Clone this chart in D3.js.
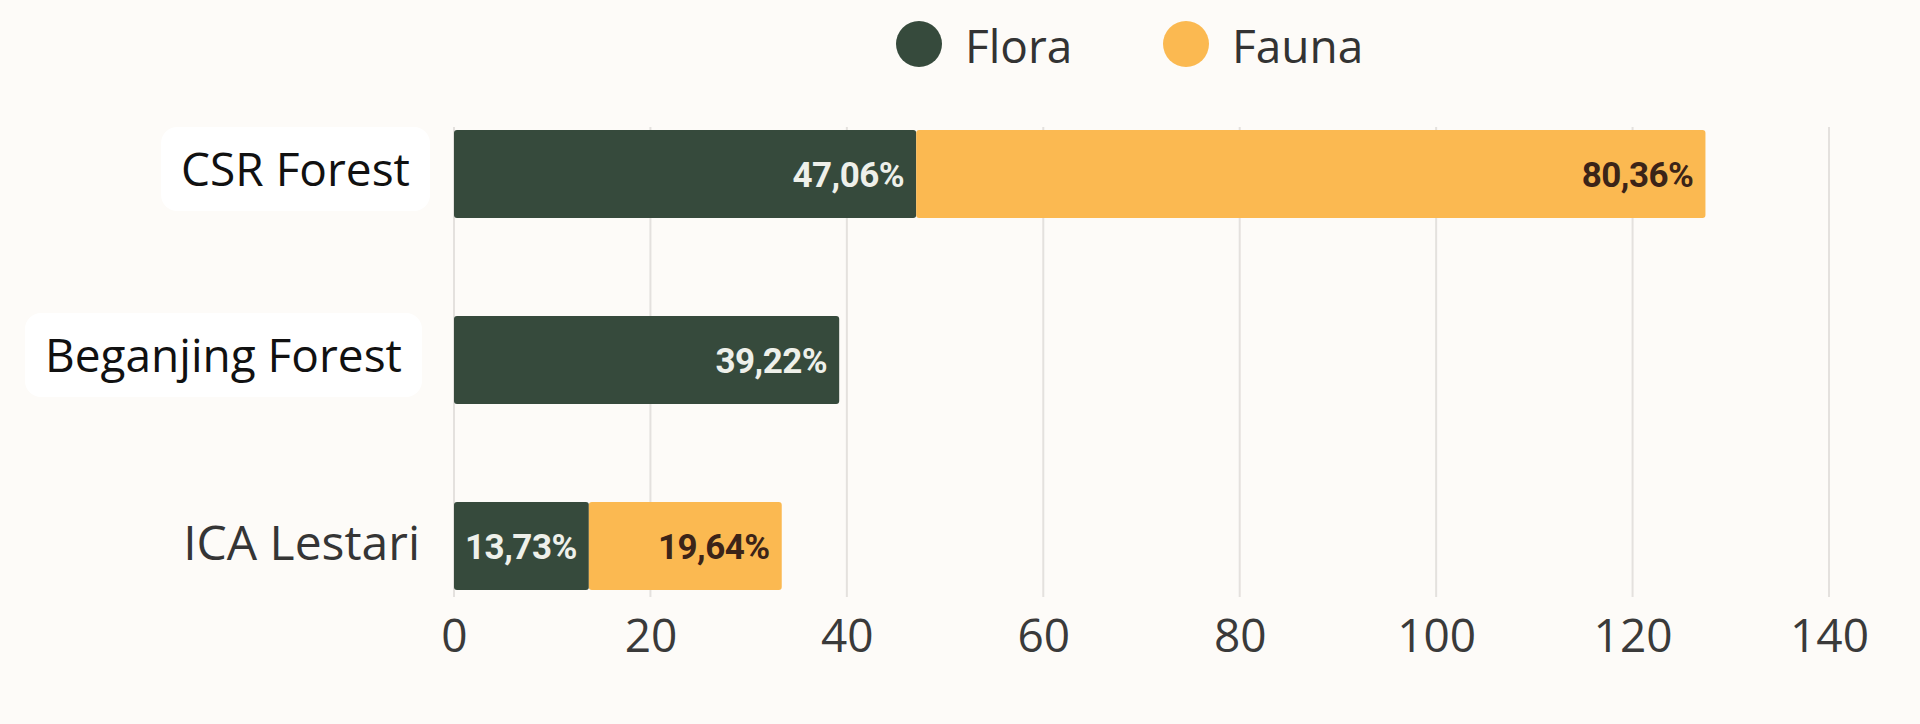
<!DOCTYPE html>
<html>
<head>
<meta charset="utf-8">
<script src="https://cdn.jsdelivr.net/npm/d3@7"></script>
<style>
  html, body { margin: 0; padding: 0; background: #fdfbf8; }
  svg { display: block; }
</style>
</head>
<body>
<svg id="chart" width="1920" height="724"></svg>
<script>
// ---- data ----
const categories = ["CSR Forest", "Beganjing Forest", "ICA Lestari"];
const seriesNames = ["Flora", "Fauna"];
const flora = [47.06, 39.22, 13.73];
const fauna = [80.36, 0, 19.64];
const tickValues = [0, 20, 40, 60, 80, 100, 120, 140];

// ---- setup ----
const svg = d3.select("#chart");
const colors = { Flora: "#364a3c", Fauna: "#fbb951" };
const labelColors = { Flora: "#eef0ea", Fauna: "#3b2418" };

const x = d3.scaleLinear().domain([0, 140]).range([454, 1829]);
const y = d3.scaleBand().domain(categories).range([130, 590]).paddingInner(0.527).paddingOuter(0);

const rows = categories.map((c, i) => ({ category: c, Flora: flora[i], Fauna: fauna[i] }));
const stacked = d3.stack().keys(seriesNames)(rows);

// gridlines
const grid = svg.append("g");
grid.selectAll("line").data(tickValues).join("line")
  .attr("x1", d => x(d)).attr("x2", d => x(d))
  .attr("y1", 127).attr("y2", 597)
  .attr("stroke", "#e4e1de").attr("stroke-width", 2);

// x axis labels (via d3 axis)
const xAxis = svg.append("g").attr("transform", "translate(0,652)")
  .call(d3.axisBottom(x).tickValues(tickValues).tickSize(0).tickPadding(0).tickFormat(d3.format("d")));
xAxis.select(".domain").remove();
xAxis.selectAll("text")
  .attr("dy", 0)
  .attr("y", 0)
  .style("font-family", "'Open Sans', sans-serif")
  .style("font-size", "46px")
  .style("fill", "#3a3a3a");

// bars
const barG = svg.append("g");
stacked.forEach(layer => {
  const key = layer.key;
  const g = barG.append("g");
  g.selectAll("rect").data(layer.filter(d => d[1] - d[0] > 0)).join("rect")
    .attr("x", d => x(d[0]))
    .attr("y", d => y(d.data.category))
    .attr("width", d => x(d[1]) - x(d[0]))
    .attr("height", y.bandwidth())
    .attr("rx", 3)
    .attr("fill", colors[key]);
  g.selectAll("text").data(layer.filter(d => d[1] - d[0] > 0)).join("text")
    .attr("x", d => x(d[1]) - 12)
    .attr("y", d => y(d.data.category) + y.bandwidth() / 2)
    .attr("dy", "0.36em")
    .attr("text-anchor", "end")
    .style("font-family", "Roboto, sans-serif")
    .style("font-weight", "700")
    .style("font-size", "35px")
    .style("letter-spacing", "-0.5px")
    .style("fill", labelColors[key])
    .text(d => (d[1] - d[0]).toFixed(2).replace(".", ",") + "%");
});

// category labels
const labelRight = { "CSR Forest": 410, "Beganjing Forest": 402, "ICA Lestari": 420 };
const labG = svg.append("g");
categories.forEach((c, i) => {
  const g = labG.append("g");
  const isPlain = c === "ICA Lestari";
  const t = g.append("text")
    .attr("x", labelRight[c])
    .attr("y", y(c) + y.bandwidth() / 2 + (isPlain ? 14 : 12))
    .attr("text-anchor", "end")
    .style("font-family", "'Open Sans', sans-serif")
    .style("font-size", isPlain ? "48px" : "46px")
    .style("fill", isPlain ? "#353535" : "#111111")
    .text(c);
  if (!isPlain) {
    const bb = t.node().getBBox();
    g.insert("rect", "text")
      .attr("x", bb.x - 20).attr("y", bb.y - 10)
      .attr("width", bb.width + 40).attr("height", bb.height + 22)
      .attr("rx", 16).attr("fill", "#ffffff");
  }
});

// legend
const legendX = [919, 1186];
const legend = svg.append("g");
seriesNames.forEach((s, i) => {
  legend.append("circle").attr("cx", legendX[i]).attr("cy", 44).attr("r", 23).attr("fill", colors[s]);
  legend.append("text")
    .attr("x", legendX[i] + 46).attr("y", 63)
    .style("font-family", "'Open Sans', sans-serif")
    .style("font-size", "46px")
    .style("fill", "#333333")
    .text(s);
});
</script>
</body>
</html>
